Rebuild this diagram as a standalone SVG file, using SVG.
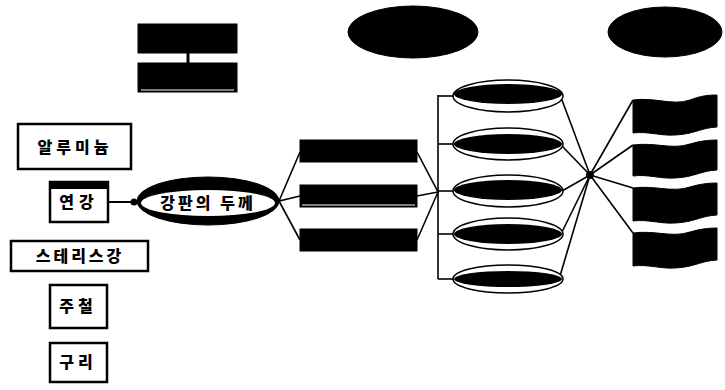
<svg xmlns="http://www.w3.org/2000/svg" width="725" height="390" viewBox="0 0 725 390">
<style>
.box{fill:#fff;stroke:#000;stroke-width:2.5}
.blk{fill:#000;stroke:#000;stroke-width:1}
.ln{stroke:#000;stroke-width:1.6;fill:none}
.kt{font-family:"Noto Sans CJK KR","Noto Sans",sans-serif;font-weight:900;font-size:16px;fill:#000;text-anchor:middle}
.oe{fill:#fff;stroke:#000;stroke-width:1.5}
</style>
<rect width="725" height="390" fill="#fff"/>
<g id="connectors">
<line class="ln" x1="188" y1="53" x2="188" y2="63" style="stroke-width:3"/>
<line class="ln" x1="109" y1="202" x2="134" y2="202" style="stroke-width:2"/>
<circle cx="134" cy="202" r="3.5" fill="#000"/>
<polyline class="ln" points="300,152 279,201 300,196"/>
<line class="ln" x1="279" y1="201" x2="300" y2="240"/>
<polyline class="ln" points="417,152 438,192 417,196"/>
<line class="ln" x1="417" y1="240" x2="438" y2="192"/>
<line class="ln" x1="438" y1="95" x2="438" y2="279"/>
<line class="ln" x1="438" y1="96" x2="454" y2="96"/>
<line class="ln" x1="438" y1="144" x2="454" y2="144"/>
<line class="ln" x1="438" y1="191" x2="454" y2="191"/>
<line class="ln" x1="438" y1="234" x2="454" y2="234"/>
<line class="ln" x1="438" y1="279" x2="454" y2="279"/>
<line class="ln" x1="562" y1="100" x2="590" y2="175"/>
<line class="ln" x1="562" y1="146" x2="590" y2="175"/>
<line class="ln" x1="562" y1="191" x2="590" y2="175"/>
<line class="ln" x1="562" y1="232" x2="590" y2="175"/>
<line class="ln" x1="560" y1="276" x2="590" y2="175"/>
<line class="ln" x1="590" y1="175" x2="633" y2="100"/>
<line class="ln" x1="590" y1="175" x2="633" y2="145"/>
<line class="ln" x1="590" y1="175" x2="633" y2="188"/>
<line class="ln" x1="590" y1="175" x2="633" y2="233"/>
<circle cx="590" cy="175" r="4" fill="#000"/>
</g>
<g id="top-box-1"><rect class="blk" x="138" y="24" width="99" height="29"/></g>
<g id="top-box-2"><rect class="blk" x="138" y="63" width="99" height="29"/><line x1="141" y1="90" x2="234" y2="90" stroke="#fff" stroke-width="1"/></g>
<g id="top-ellipse-1"><ellipse class="blk" cx="413" cy="32" rx="65" ry="26"/></g>
<g id="top-ellipse-2"><ellipse class="blk" cx="665" cy="32" rx="57" ry="25"/></g>
<g id="aluminum"><rect class="box" x="18" y="124" width="113" height="45"/><text class="kt" x="75" y="153" letter-spacing="4">알루미늄</text></g>
<g id="mild-steel"><rect class="box" x="50" y="182" width="58" height="40"/><rect x="51" y="183" width="56" height="6" fill="#000"/><text class="kt" x="79" y="208" letter-spacing="5">연강</text></g>
<g id="plate-thickness"><ellipse class="blk" cx="208" cy="201" rx="71" ry="24"/><ellipse cx="208" cy="203" rx="67" ry="13" fill="#fff"/><text class="kt" x="208" y="209" letter-spacing="3">강판의 두께</text></g>
<g id="stainless"><rect class="box" x="11" y="241" width="137" height="30"/><text class="kt" x="80" y="262" letter-spacing="3">스테리스강</text></g>
<g id="cast-iron"><rect class="box" x="50" y="285" width="57" height="43"/><text class="kt" x="78" y="312" letter-spacing="4">주철</text></g>
<g id="copper"><rect class="box" x="50" y="343" width="57" height="39"/><text class="kt" x="78" y="368" letter-spacing="4">구리</text></g>
<g id="mid-box-1"><rect class="blk" x="300" y="140" width="117" height="22"/></g>
<g id="mid-box-2"><rect class="blk" x="300" y="185" width="117" height="22"/><line x1="302" y1="205" x2="415" y2="205" stroke="#fff" stroke-width="1"/></g>
<g id="mid-box-3"><rect class="blk" x="300" y="229" width="117" height="22"/></g>
<g id="ellipse-1"><ellipse class="oe" cx="508" cy="96" rx="55" ry="16"/><ellipse cx="508" cy="94" rx="54" ry="10" fill="#000"/></g>
<g id="ellipse-2"><ellipse class="oe" cx="508" cy="144" rx="55" ry="16"/><ellipse cx="508" cy="144" rx="54" ry="10" fill="#000"/></g>
<g id="ellipse-3"><ellipse class="oe" cx="508" cy="191" rx="55" ry="16"/><ellipse cx="508" cy="190" rx="54" ry="10" fill="#000"/></g>
<g id="ellipse-4"><ellipse class="oe" cx="508" cy="234" rx="55" ry="16"/><ellipse cx="508" cy="234" rx="54" ry="10" fill="#000"/></g>
<g id="ellipse-5"><ellipse class="oe" cx="508" cy="279" rx="55" ry="14"/><ellipse cx="508" cy="279" rx="54" ry="8" fill="#000"/></g>
<g id="flag-1"><path class="blk" d="M633,100 C655,97 672,106 690,100 C700,96 708,95 717,95 L717,127 C700,128 695,134 675,135 C660,136 648,131 633,133 Z"/></g>
<g id="flag-2"><path class="blk" d="M633,145 C655,142 672,150 690,144 C700,141 708,140 717,140 L717,170 C700,171 695,177 675,178 C660,179 648,174 633,176 Z"/></g>
<g id="flag-3"><path class="blk" d="M633,188 C655,185 672,193 690,187 C700,184 708,183 717,183 L717,215 C700,216 695,222 675,223 C660,224 648,219 633,221 Z"/></g>
<g id="flag-4"><path class="blk" d="M633,233 C655,230 672,238 690,232 C700,229 708,228 717,228 L717,260 C700,261 695,267 675,268 C660,269 648,264 633,266 Z"/></g>
</svg>
